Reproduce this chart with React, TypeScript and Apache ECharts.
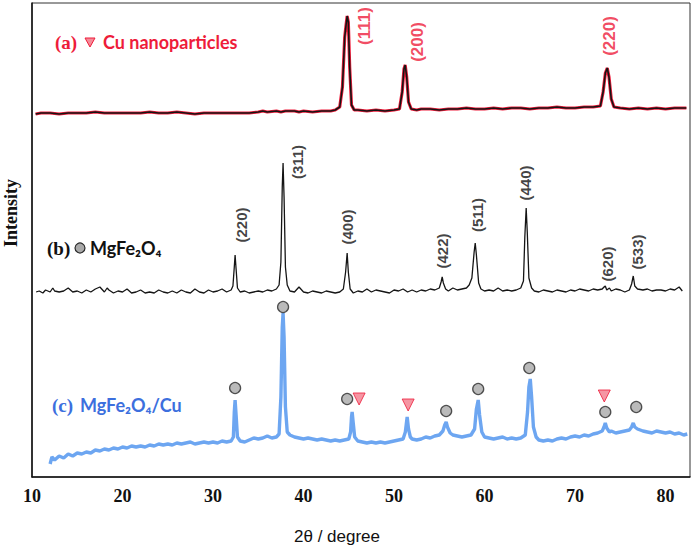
import React, { useEffect, useRef } from "react";
import * as echarts from "echarts";

// ---- x-axis tick labels (2θ, degree) ----
const xTicks = [10, 20, 30, 40, 50, 60, 70, 80];

// ---- (a) Cu nanoparticles: [2θ, intensity a.u.] ----
const cuPattern: number[][] = [
  [10.4, 363], [11, 364], [12, 364], [13, 363], [14, 364], [15, 364], [16, 364], [17, 365], [18, 364], [19, 364],
  [20, 364], [21, 364], [22, 364], [23, 365], [24, 364], [25, 364], [26, 365], [27, 364], [28, 363], [29, 364],
  [30, 364], [31, 364], [32, 364], [33, 364], [34, 364], [35, 365], [35.5, 366], [36, 365], [37, 366], [37.5, 365],
  [38, 366], [39, 366], [39.5, 365], [40, 366], [41, 365], [42, 366], [43, 366], [43.5, 367], [44.0, 370], [44.3, 390],
  [44.55, 440], [44.7, 452], [44.82, 461], [44.95, 455], [45.1, 410], [45.3, 372], [45.6, 367], [46, 367], [47, 366],
  [48, 367], [49, 366], [50, 367], [50.6, 368], [50.9, 385], [51.1, 408], [51.23, 412], [51.4, 400], [51.6, 375],
  [51.9, 368], [52.5, 367], [53, 368], [54, 368], [55, 367], [56, 368], [57, 368], [58, 369], [59, 368], [60, 368],
  [61, 369], [62, 368], [63, 369], [64, 369], [65, 368], [66, 369], [67, 369], [68, 370], [69, 369], [70, 369],
  [71, 370], [72, 370], [72.8, 371], [73.1, 385], [73.35, 404], [73.56, 409], [73.75, 400], [74.0, 378], [74.3, 370],
  [75, 369], [76, 368], [77, 369], [78, 368], [79, 369], [80, 368], [81, 369], [82.3, 369],
];
const cuPeakPos = [46.7, 52.56, 73.78];
const cuPeakLabelY = [451, 435, 441];
const cuPeakNames = ["(111)", "(200)", "(220)"];

// ---- (b) MgFe2O4 ----
const ferritePattern: number[][] = [
  [10.45, 185], [10.8, 186], [11.2, 184], [11.5, 187], [12, 185], [12.3, 189], [12.5, 186], [13, 185], [13.5, 186], [14, 189], [14.5, 185],
  [15, 186], [15.5, 184], [16, 187], [16.5, 185], [17, 188], [17.5, 190], [18, 185], [18.3, 189], [18.5, 187], [19, 184], [19.5, 186],
  [20, 185], [20.5, 188], [21, 184], [21.5, 185], [22, 187], [22.5, 184], [23, 185], [23.5, 184], [24, 187], [24.5, 185],
  [25, 184], [25.5, 186], [26, 184], [26.5, 187], [27, 185], [27.5, 184], [28, 188], [28.5, 185], [29, 184], [29.5, 187],
  [30, 185], [30.5, 186], [31, 188], [31.5, 185], [32, 187], [32.2, 191], [32.35, 210], [32.44, 222], [32.55, 208],
  [32.7, 189], [33, 185], [33.5, 186], [34, 184], [34.5, 185], [35, 186], [35.5, 185], [36, 187], [36.5, 186], [37, 188],
  [37.3, 192], [37.5, 215], [37.65, 290], [37.74, 314], [37.85, 280], [38.0, 210], [38.2, 192], [38.5, 186], [39, 185],
  [39.5, 190], [40, 185], [40.5, 184], [41, 186], [41.5, 185], [42, 184], [42.5, 186], [43, 185], [43.5, 184], [44, 185],
  [44.4, 188], [44.65, 205], [44.82, 224], [44.95, 205], [45.15, 188], [45.5, 184], [46, 186], [46.5, 185], [47, 188],
  [47.5, 185], [48, 187], [48.5, 186], [49, 185], [49.5, 184], [50, 187], [50.5, 186], [51, 188], [51.5, 185], [52, 187],
  [52.5, 185], [53, 187], [53.5, 186], [54, 188], [54.5, 187], [55, 189], [55.2, 195], [55.32, 200], [55.45, 194],
  [55.7, 188], [56, 186], [56.5, 189], [57, 187], [57.5, 188], [58, 189], [58.3, 192], [58.6, 199], [58.85, 225],
  [58.97, 234], [59.1, 222], [59.35, 194], [59.6, 188], [60, 186], [60.5, 187], [61, 186], [61.5, 189], [62, 186],
  [62.5, 187], [63, 186], [63.5, 187], [64, 189], [64.3, 196], [64.45, 240], [64.6, 269], [64.72, 245], [64.9, 199],
  [65.2, 189], [65.5, 186], [66, 185], [66.5, 187], [67, 186], [67.5, 185], [68, 187], [68.5, 186], [69, 185], [69.5, 187],
  [70, 186], [70.5, 188], [71, 187], [71.5, 186], [72, 188], [72.5, 187], [73, 188], [73.2, 190], [73.34, 191], [73.5, 187],
  [73.8, 189], [74, 186], [74.5, 188], [75, 187], [75.5, 185], [76, 187], [76.25, 193], [76.43, 201], [76.6, 191],
  [76.9, 188], [77.5, 187], [78, 188], [78.5, 186], [79, 187], [79.5, 187], [80, 186], [80.5, 188], [81, 187], [81.5, 190],
  [81.85, 186],
];
const ferritePeakPos = [33.1, 39.29, 44.82, 55.32, 59.19, 64.49, 73.56, 76.87];
const ferritePeakLabelY = [252, 315, 250, 226, 262, 294, 213, 225];
const ferritePeakNames = ["(220)", "(311)", "(400)", "(422)", "(511)", "(440)", "(620)", "(533)"];

// ---- (c) MgFe2O4/Cu ----
const compositePattern: number[][] = [
  [12.0, 13], [12.2, 20], [12.5, 17], [13, 21], [13.5, 19], [14, 23], [14.5, 21], [15, 24], [15.5, 23], [16, 25],
  [16.5, 24], [17, 27], [17.5, 26], [18, 28], [18.5, 27], [19, 29], [19.5, 28], [20, 30], [20.5, 29], [21, 31],
  [21.5, 30], [22, 31], [22.5, 30], [23, 32], [23.5, 31], [24, 33], [24.5, 32], [25, 33], [25.5, 32], [26, 34],
  [26.5, 33], [27, 34], [27.5, 35], [28, 33], [28.5, 34], [29, 35], [29.5, 34], [30, 35], [30.5, 34], [31, 36],
  [31.5, 35], [32, 36], [32.25, 40], [32.35, 65], [32.44, 77], [32.55, 62], [32.7, 40], [33, 36], [33.5, 35], [34, 37],
  [34.5, 39], [35, 38], [35.5, 39], [36, 41], [36.5, 39], [37, 40], [37.3, 43], [37.5, 80], [37.65, 150], [37.74, 164],
  [37.85, 140], [38.0, 70], [38.2, 45], [38.5, 42], [39, 40], [39.5, 39], [40, 38], [40.5, 39], [41, 38], [41.5, 37],
  [42, 38], [42.5, 37], [43, 36], [43.5, 37], [44, 36], [44.5, 37], [45, 38], [45.2, 45], [45.3, 60], [45.37, 65],
  [45.48, 55], [45.65, 40], [46, 36], [46.5, 35], [47, 34], [47.5, 35], [48, 34], [48.5, 35], [49, 34], [49.5, 35],
  [50, 36], [50.5, 37], [51, 38], [51.25, 45], [51.45, 60], [51.6, 48], [51.8, 40], [52, 38], [52.5, 37], [53, 38],
  [53.5, 40], [54, 39], [54.5, 41], [55, 42], [55.4, 46], [55.6, 52], [55.76, 55], [55.9, 50], [56.2, 44], [56.5, 42],
  [57, 41], [57.5, 40], [58, 41], [58.5, 42], [58.9, 48], [59.1, 68], [59.3, 77], [59.45, 62], [59.7, 45], [60, 40],
  [60.5, 39], [61, 38], [61.5, 39], [62, 40], [62.5, 38], [63, 39], [63.5, 38], [64, 39], [64.5, 42], [64.75, 65],
  [64.9, 90], [65.05, 98], [65.2, 80], [65.4, 50], [65.7, 40], [66, 37], [66.5, 36], [67, 37], [67.5, 36], [68, 38],
  [68.5, 39], [69, 38], [69.5, 40], [70, 41], [70.5, 40], [71, 42], [71.5, 41], [72, 43], [72.5, 44], [73, 46],
  [73.2, 50], [73.34, 54], [73.5, 49], [73.8, 45], [74, 46], [74.5, 44], [75, 45], [75.5, 46], [76, 47], [76.25, 50],
  [76.43, 54], [76.6, 50], [76.9, 48], [77.5, 46], [78, 45], [78.5, 44], [79, 46], [79.5, 45], [80, 44], [80.5, 45],
  [81, 43], [81.5, 44], [82, 42], [82.4, 43],
];
const ferriteMarkers: number[][] = [
  [32.44, 89], [37.74, 170], [44.82, 78], [55.76, 66], [59.3, 88], [64.94, 109], [73.34, 65], [76.76, 70],
];
const cuMarkers: number[][] = [[46.14, 78], [51.56, 72], [73.23, 81]];

const RED = "#ee1c3a";
const BLUE = "#3c6fde";
const SERIF = "'Liberation Serif', 'Times New Roman', serif";
const SANS = "Lato, 'DejaVu Sans', sans-serif";
const ARIAL = "'Liberation Sans', Arial, sans-serif";

export default function App() {
  const ref = useRef<HTMLDivElement>(null);
  useEffect(() => {
    if (!ref.current) return;
    const chart = echarts.init(ref.current, null, { renderer: "svg" });
    const labelSeries = (pos: number[], ys: number[], names: string[], color: string, size: number) => ({
      type: "scatter",
      symbolSize: 1,
      itemStyle: { color: "rgba(0,0,0,0)" },
      silent: true,
      z: 5,
      data: pos.map((x, i) => ({ value: [x, ys[i]], name: names[i] })),
      label: {
        show: true,
        position: "inside",
        formatter: "{b}",
        rotate: 90,
        align: "center",
        verticalAlign: "middle",
        color,
        fontSize: size,
        fontWeight: "bold",
        fontFamily: ARIAL,
      },
    });
    chart.setOption({
      animation: false,
      backgroundColor: "#ffffff",
      grid: { left: 32, right: 7, top: 3, bottom: 76, show: true, borderColor: "#333", borderWidth: 1 },
      xAxis: {
        type: "value",
        min: 10,
        max: 82.7,
        splitLine: { show: false },
        axisTick: { show: false },
        axisLine: { show: true, onZero: false, lineStyle: { color: "#111", width: 1.5 } },
        axisLabel: {
          customValues: xTicks,
          margin: 10,
          fontSize: 18,
          fontWeight: "bold",
          fontFamily: SERIF,
          color: "#111",
        },
      },
      yAxis: {
        type: "value",
        min: 0,
        max: 474,
        splitLine: { show: false },
        axisTick: { show: false },
        axisLabel: { show: false },
        axisLine: { show: true, lineStyle: { color: "#111", width: 1.5 } },
      },
      series: [
        {
          type: "line",
          data: cuPattern,
          showSymbol: false,
          lineStyle: { color: RED, width: 3.2 },
          z: 2,
        },
        {
          type: "line",
          data: cuPattern,
          showSymbol: false,
          lineStyle: { color: "#151515", width: 1.6 },
          z: 3,
        },
        {
          type: "line",
          data: ferritePattern,
          showSymbol: false,
          lineStyle: { color: "#151515", width: 1.3 },
          z: 3,
        },
        {
          type: "line",
          data: compositePattern,
          showSymbol: false,
          lineStyle: { color: "#5d9cf0", width: 3.4, opacity: 0.9 },
          z: 3,
        },
        {
          type: "scatter",
          data: ferriteMarkers,
          symbol: "circle",
          symbolSize: 11,
          itemStyle: { color: "#a9a9a9", borderColor: "#2a2a2a", borderWidth: 1.3 },
          z: 4,
        },
        {
          type: "scatter",
          data: cuMarkers,
          symbol: "triangle",
          symbolRotate: 180,
          symbolSize: 12,
          itemStyle: { color: "#f27c8c", borderColor: RED, borderWidth: 1 },
          z: 4,
        },
        labelSeries(cuPeakPos, cuPeakLabelY, cuPeakNames, RED, 17),
        labelSeries(ferritePeakPos, ferritePeakLabelY, ferritePeakNames, "#111", 15),
      ],
      graphic: [
        { type: "text", x: 55, y: 42, style: { text: "(a)", font: `bold 19px ${SERIF}`, fill: RED, textVerticalAlign: "middle" } },
        {
          type: "polygon",
          shape: { points: [[85, 38], [95, 38], [90, 47]] },
          style: { fill: "#f58a98", stroke: RED, lineWidth: 1 },
        },
        { type: "text", x: 103, y: 42, style: { text: "Cu nanoparticles", font: `bold 18px ${SANS}`, fill: RED, textVerticalAlign: "middle" } },
        { type: "text", x: 47, y: 248, style: { text: "(b)", font: `bold 19px ${SERIF}`, fill: "#111", textVerticalAlign: "middle" } },
        { type: "circle", shape: { cx: 80, cy: 248, r: 5 }, style: { fill: "#a9a9a9", stroke: "#2a2a2a", lineWidth: 1.2 } },
        { type: "text", x: 90, y: 248, style: { text: "MgFe₂O₄", font: `bold 18px ${SANS}`, fill: "#111", textVerticalAlign: "middle" } },
        { type: "text", x: 52, y: 405, style: { text: "(c)", font: `bold 19px ${SERIF}`, fill: BLUE, textVerticalAlign: "middle" } },
        { type: "text", x: 80, y: 405, style: { text: "MgFe₂O₄/Cu", font: `bold 18px ${SANS}`, fill: BLUE, textVerticalAlign: "middle" } },
        {
          type: "text",
          x: 11,
          y: 213,
          rotation: Math.PI / 2,
          style: { text: "Intensity", font: `bold 18px ${SERIF}`, fill: "#111", textAlign: "center", textVerticalAlign: "middle" },
        },
        {
          type: "text",
          x: 337,
          y: 536,
          style: { text: "2θ / degree", font: `17px ${ARIAL}`, fill: "#111", textAlign: "center", textVerticalAlign: "middle" },
        },
      ],
    });
    return () => chart.dispose();
  }, []);
  return <div ref={ref} style={{ position: "absolute", left: 0, top: 0, width: 697, height: 553 }} />;
}
